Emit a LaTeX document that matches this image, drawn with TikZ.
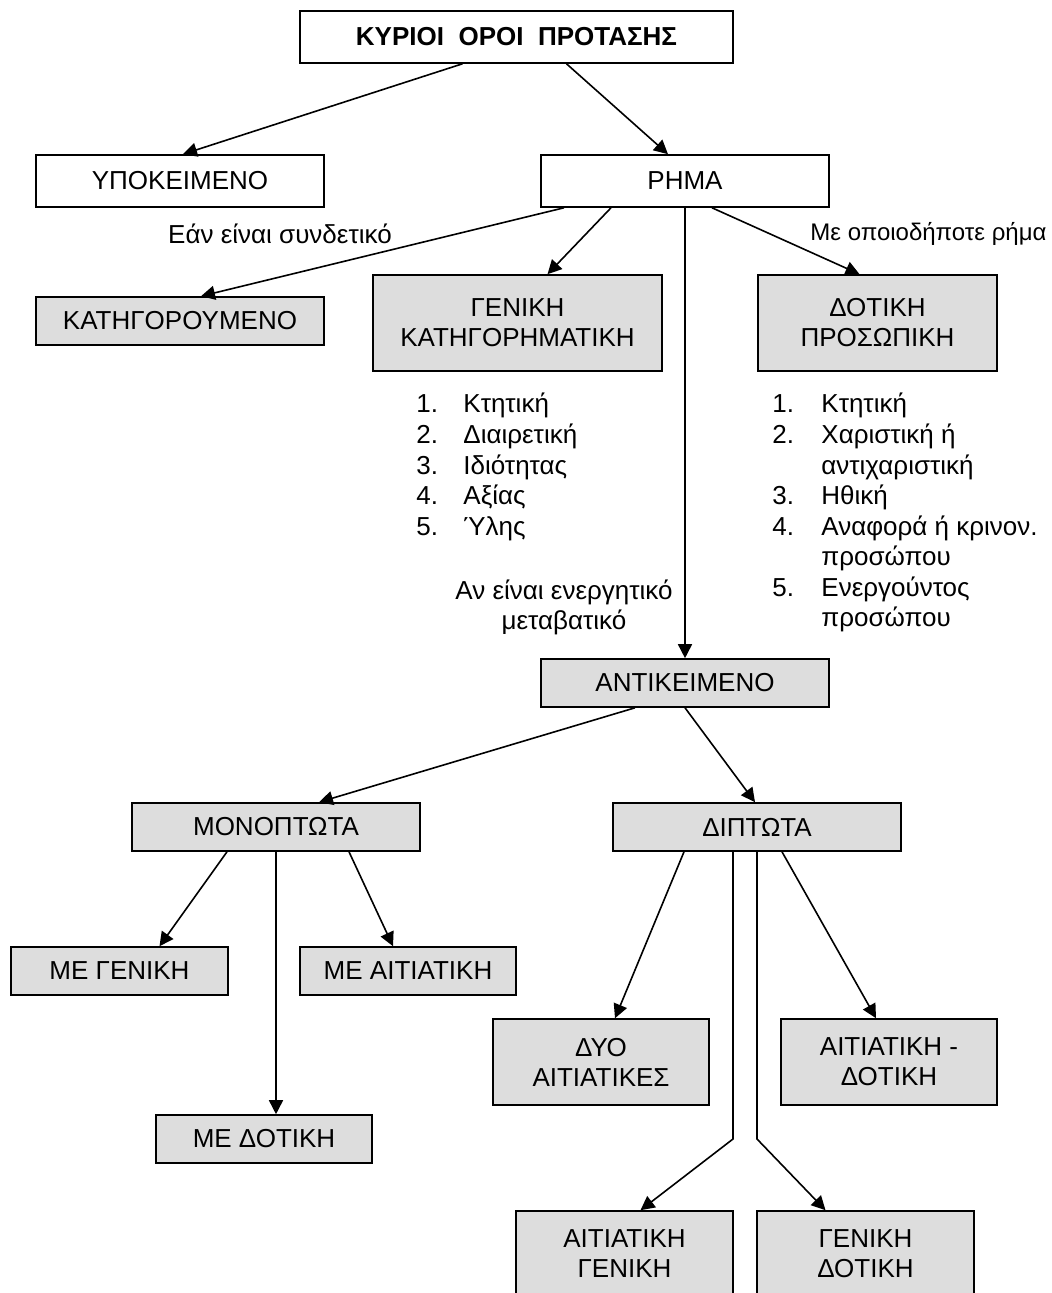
\documentclass[tikz,border=0pt]{standalone}
\usepackage{fontspec}
\setmainfont{Liberation Sans}
\usetikzlibrary{arrows.meta}
\definecolor{boxgrey}{RGB}{221,221,221}
\newcommand{\fs}{\fontsize{13}{15}\selectfont}
\tikzset{
  plainbox/.style = {draw, line width = 0.8pt, inner sep = 0pt, align = center, font = \fs},
  greybox/.style = {plainbox, fill = boxgrey},
  arr/.style = {-{Triangle[length = 7pt, width = 7pt]}, line width = 0.8pt},
  note/.style = {inner sep = 0pt, font = \fs}
}
\begin{document}
\begin{tikzpicture}[x = 0.5pt, y = -0.5pt]
\useasboundingbox (0, 0) rectangle (1051, 1293);
\node [plainbox, minimum width = 216.5pt, minimum height = 26pt] (title) at (516.5, 37) {\bfseries ΚΥΡΙΟΙ\ \ ΟΡΟΙ\ \ ΠΡΟΤΑΣΗΣ};
\node [plainbox, minimum width = 144pt, minimum height = 26pt] (ypok) at (180, 181) {ΥΠΟΚΕΙΜΕΝΟ};
\node [plainbox, minimum width = 144pt, minimum height = 26pt] (rhma) at (685, 181) {ΡΗΜΑ};
\node [greybox, minimum width = 144pt, minimum height = 24pt] (kathg) at (180, 321) {ΚΑΤΗΓΟΡΟΥΜΕΝΟ};
\node [greybox, minimum width = 144.5pt, minimum height = 48pt] (genikh) at (517.5, 323) {ΓΕΝΙΚΗ\\ΚΑΤΗΓΟΡΗΜΑΤΙΚΗ};
\node [greybox, minimum width = 119.5pt, minimum height = 48pt] (dotikh) at (877.5, 323) {ΔΟΤΙΚΗ\\ΠΡΟΣΩΠΙΚΗ};
\node [greybox, minimum width = 144pt, minimum height = 24pt] (antik) at (685, 683) {ΑΝΤΙΚΕΙΜΕΝΟ};
\node [greybox, minimum width = 144pt, minimum height = 24pt] (monop) at (276, 827) {ΜΟΝΟΠΤΩΤΑ};
\node [greybox, minimum width = 144pt, minimum height = 24pt] (dipt) at (757, 827) {ΔΙΠΤΩΤΑ};
\node [greybox, minimum width = 108.5pt, minimum height = 24pt] (megen) at (119.5, 971) {ΜΕ ΓΕΝΙΚΗ};
\node [greybox, minimum width = 108pt, minimum height = 24pt] (meait) at (408, 971) {ΜΕ ΑΙΤΙΑΤΙΚΗ};
\node [greybox, minimum width = 108pt, minimum height = 24pt] (medot) at (264, 1139) {ΜΕ ΔΟΤΙΚΗ};
\node [greybox, minimum width = 108pt, minimum height = 43pt] (dyoait) at (601, 1062) {ΔΥΟ\\ΑΙΤΙΑΤΙΚΕΣ};
\node [greybox, minimum width = 108pt, minimum height = 43pt] (aitdot) at (889, 1062) {ΑΙΤΙΑΤΙΚΗ -\\ΔΟΤΙΚΗ};
\node [greybox, minimum width = 108.5pt, minimum height = 43pt] (aitgen) at (624.5, 1254) {ΑΙΤΙΑΤΙΚΗ\\ΓΕΝΙΚΗ};
\node [greybox, minimum width = 108.5pt, minimum height = 43pt] (gendot) at (865.5, 1254) {ΓΕΝΙΚΗ\\ΔΟΤΙΚΗ};
\node [note, anchor = base] (syndet) at (280, 244) {Εάν είναι συνδετικό};
\node [note, anchor = base west, font = \fontsize{12}{14}\selectfont] (opoiod) at (810, 241) {Με οποιοδήποτε ρήμα};
\node [note, align = center] (energ) at (564, 607) {Αν είναι ενεργητικό\\μεταβατικό};
\foreach \t [count = \i] in {Κτητική, Διαιρετική, Ιδιότητας, Αξίας, Ύλης} {
  \node [note, anchor = base west] (gnum\i) at (416, {413 + 30.5*(\i - 1)}) {\i.};
  \node [note, anchor = base west] (gtxt\i) at (463, {413 + 30.5*(\i - 1)}) {\t};
}
\foreach \n/\l in {1/1, 2/2, 3/4, 4/5, 5/7}
  \node [note, anchor = base west] (dnum\n) at (772, {413 + 30.5*(\l - 1)}) {\n.};
\foreach \t [count = \i] in {Κτητική, Χαριστική ή, αντιχαριστική, Ηθική, Αναφορά ή κρινον., προσώπου, Ενεργούντος, προσώπου}
  \node [note, anchor = base west] (dtxt\i) at (821, {413 + 30.5*(\i - 1)}) {\t};
\draw [arr] ([xshift = -27pt]title.south) -- ([xshift = 1.5pt]ypok.north);
\draw [arr] ([xshift = 25pt]title.south) -- ([xshift = -8.5pt]rhma.north);
\draw [arr] ([xshift = -60.5pt]rhma.south) -- ([xshift = 10.5pt]kathg.north);
\draw [arr] ([xshift = -37pt]rhma.south) -- ([xshift = 15pt]genikh.north);
\draw [arr] (rhma.south) -- (antik.north);
\draw [arr] ([xshift = 13.5pt]rhma.south) -- ([xshift = -9pt]dotikh.north);
\draw [arr] ([xshift = -25pt]antik.south) -- ([xshift = 21.5pt]monop.north);
\draw [arr] (antik.south) -- ([xshift = -1pt]dipt.north);
\draw [arr] ([xshift = -24.5pt]monop.south) -- ([xshift = 20pt]megen.north);
\draw [arr] (monop.south) -- (monop.south |- medot.north);
\draw [arr] ([xshift = 36.5pt]monop.south) -- ([xshift = -7.5pt]meait.north);
\draw [arr] ([xshift = -36.5pt]dipt.south) -- ([xshift = 7pt]dyoait.north);
\draw [arr] ([xshift = 12.5pt]dipt.south) -- ([xshift = -6.5pt]aitdot.north);
\coordinate (split) at (745, 1139);
\draw [arr] ([xshift = -12pt]dipt.south) -- ([xshift = -12pt]dipt.south |- split) -- ([xshift = 8pt]aitgen.north);
\draw [arr] (dipt.south) -- (dipt.south |- split) -- ([xshift = -20pt]gendot.north);
\end{tikzpicture}
\end{document}
